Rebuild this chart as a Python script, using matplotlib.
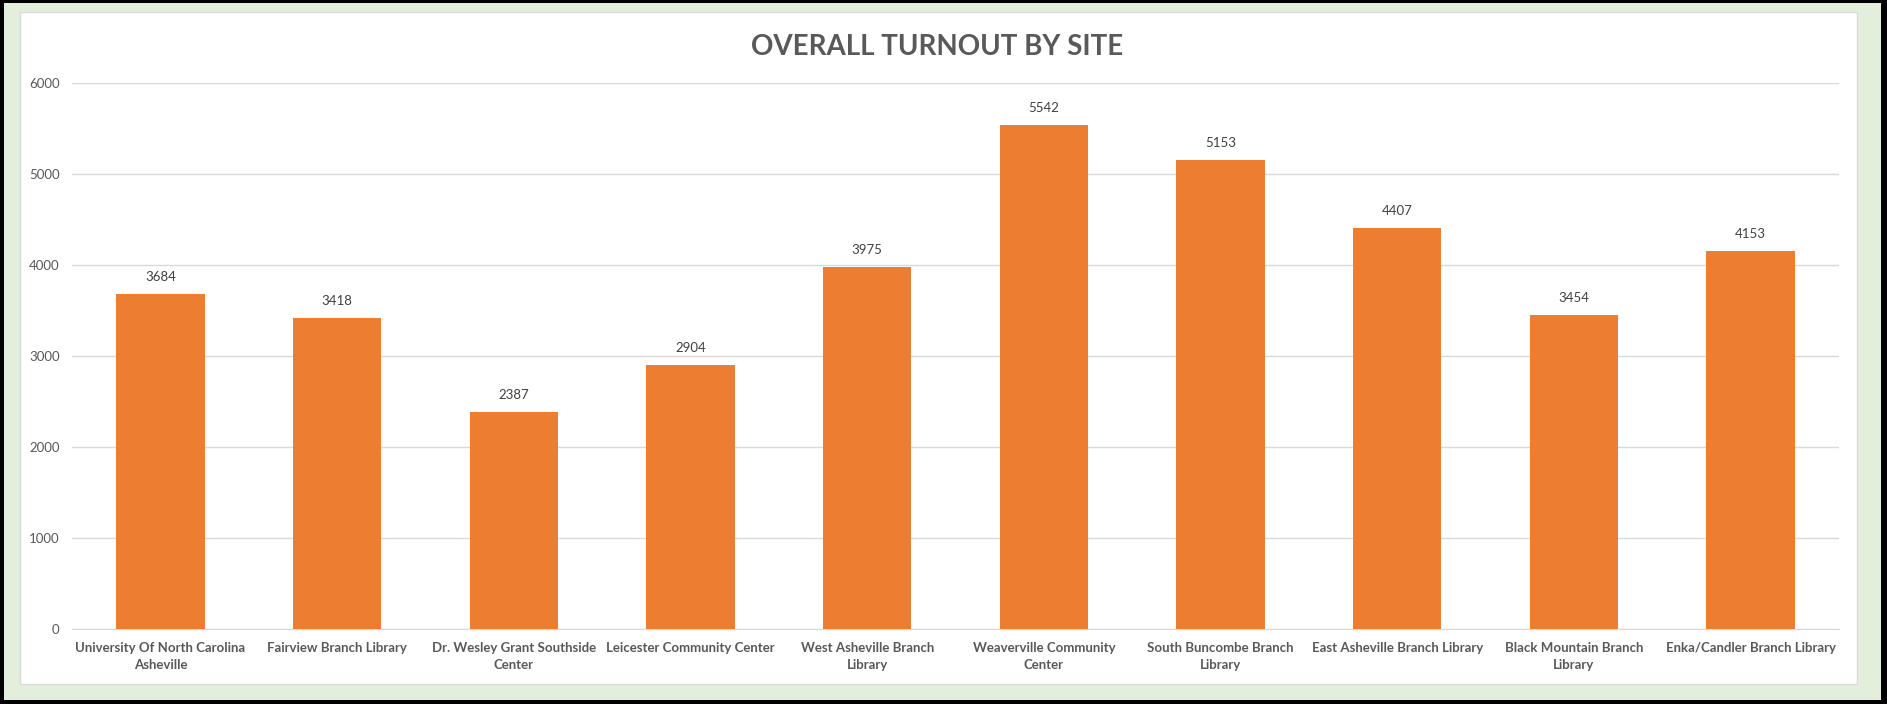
import matplotlib.pyplot as plt
from matplotlib.patches import Rectangle

sites = ['University Of North Carolina\nAsheville', 'Fairview Branch Library',
         'Dr. Wesley Grant Southside\nCenter', 'Leicester Community Center',
         'West Asheville Branch\nLibrary', 'Weaverville Community\nCenter',
         'South Buncombe Branch\nLibrary', 'East Asheville Branch Library',
         'Black Mountain Branch\nLibrary', 'Enka/Candler Branch Library']
turnout = [3684, 3418, 2387, 2904, 3975, 5542, 5153, 4407, 3454, 4153]
yticks = [0, 1000, 2000, 3000, 4000, 5000, 6000]

plt.rcParams['font.family'] = ['Lato', 'DejaVu Sans']

W, H = 1887, 704
fig = plt.figure(figsize=(W / 100, H / 100), dpi=100, facecolor='black')

# green frame and white chart area (behind the axes)
fig.patches.append(Rectangle((4 / W, 4 / H), 1877 / W, 697 / H, transform=fig.transFigure,
                             facecolor='#E2EFDA', edgecolor='none', zorder=-2))
fig.patches.append(Rectangle((20 / W, 20 / H), 1837 / W, 672 / H, transform=fig.transFigure,
                             facecolor='white', edgecolor='#D9D9D9', linewidth=1, zorder=-1))

ax = fig.add_axes([72 / W, 1 - 629 / H, 1767 / W, 546 / H])
ax.set_facecolor('none')

x = range(len(sites))
barras = ax.bar(x, turnout, width=0.5, color='#ED7D31', zorder=3)
for b, v in zip(barras, turnout):
    ax.annotate(str(v), (b.get_x() + b.get_width() / 2, v), xytext=(0, 8),
                textcoords='offset points', ha='center', va='bottom',
                fontsize=9.5, color='#404040')

ax.set_xlim(-0.5, len(sites) - 0.5)
ax.set_ylim(0, 6000)
ax.set_yticks(yticks)
ax.set_yticklabels([str(t) for t in yticks], fontsize=9.5, color='#595959')
ax.set_xticks(list(x))
ax.set_xticklabels(sites, fontsize=9.5, fontweight='bold', color='#595959', linespacing=1.55)
ax.tick_params(axis='both', length=0)
ax.tick_params(axis='x', pad=9)
ax.tick_params(axis='y', pad=9)
ax.grid(axis='y', color='#D9D9D9', linewidth=1, zorder=0)
for s in ['top', 'right', 'left']:
    ax.spines[s].set_visible(False)
ax.spines['bottom'].set_color('#D9D9D9')

fig.text(937 / W, 1 - 47 / H, 'OVERALL TURNOUT BY SITE', ha='center', va='center',
         fontsize=20, fontweight='bold', color='#595959')

fig.savefig('out.png', dpi=100, facecolor=fig.get_facecolor())
